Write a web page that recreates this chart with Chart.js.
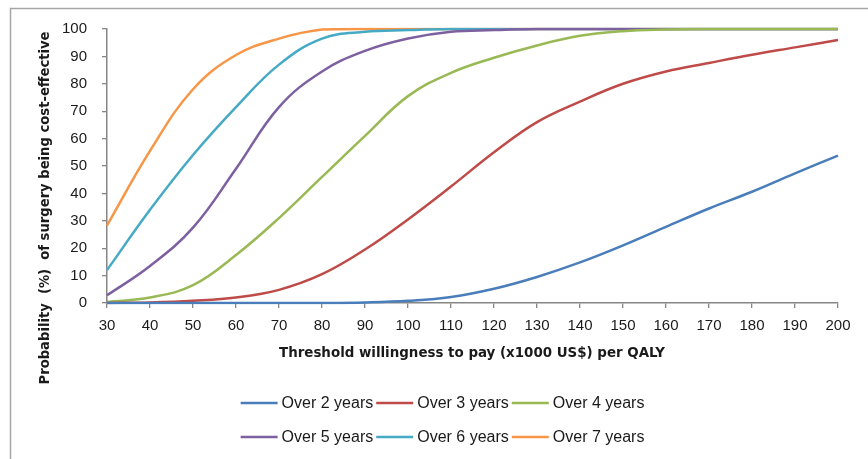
<!DOCTYPE html>
<html><head><meta charset="utf-8">
<script src="https://cdn.jsdelivr.net/npm/chart.js@4.4.0/dist/chart.umd.min.js"></script>
<style>html,body{margin:0;padding:0;background:#fff;overflow:hidden}#wrap{width:868px;height:459px;position:relative}canvas{display:block}</style>
</head><body><div id="wrap"><canvas id="c" style="width:868px;height:459px"></canvas></div>
<script>
const thresholds = [30,40,50,60,70,80,90,100,110,120,130,140,150,160,170,180,190,200];
const over2 = [0,0,0,0,0,0,0.2,0.8,2.2,5.2,9.5,14.8,21,27.8,34.5,40.6,47.3,53.8];
const over3 = [0,0.2,0.8,2,4.8,10.5,19.5,30.5,42.5,55,66,73.5,80,84.5,87.6,90.6,93.3,96];
const over4 = [0.4,2,6.5,17.5,31,46,61,75.5,84,89.5,94,97.5,99.2,99.8,100,100,100,100];
const over5 = [2.8,13.5,27.5,49,71.5,84.5,92,96.5,99,99.6,100,100,100,100,100,100,100,100];
const over6 = [12,34,54,71.5,87,96.5,99,99.6,100,100,100,100,100,100,100,100,100,100];
const over7 = [28.3,55.5,78,90.5,96.5,99.8,100,100,100,100,100,100,100,100,100,100,100,100];
const seriesNames = ['Over 2 years','Over 3 years','Over 4 years','Over 5 years','Over 6 years','Over 7 years'];
const seriesValues = [over2, over3, over4, over5, over6, over7];
const seriesColors = ['#4A7EBB','#BE4B48','#98B954','#7D60A0','#46AAC5','#F79646'];
const yTickValues = [0,10,20,30,40,50,60,70,80,90,100];
const xTitle = 'Threshold willingness to pay (x1000 US$) per QALY';
const yTitle = 'Probability  (%)  of surgery being cost-effective';

const AXIS = '#868686';
const TEXT = '#1a1a1a';
const TITLE_FONT = 'bold 14px "DejaVu Sans Condensed", "DejaVu Sans", sans-serif';

function drawFittedText(ctx, text, cx, cy, rotation, targetWidth) {
  ctx.save();
  ctx.translate(cx, cy);
  ctx.rotate(rotation);
  ctx.font = TITLE_FONT;
  const w = ctx.measureText(text).width;
  ctx.scale(targetWidth / w, 1);
  ctx.fillStyle = TEXT;
  ctx.textAlign = 'center';
  ctx.textBaseline = 'middle';
  ctx.fillText(text, 0, 0);
  ctx.restore();
}

const framePlugin = {
  id: 'frame',
  beforeDraw(chart) {
    const ctx = chart.ctx;
    ctx.save();
    ctx.fillStyle = '#fff';
    ctx.fillRect(0, 0, chart.width, chart.height);
    ctx.strokeStyle = '#a6a6a6';
    ctx.lineWidth = 1.5;
    ctx.strokeRect(10.5, 8.5, chart.width + 20, chart.height + 20);
    ctx.restore();
  }
};

const titlesPlugin = {
  id: 'axisTitles',
  afterDraw(chart) {
    const ctx = chart.ctx;
    drawFittedText(ctx, yTitle, 45, 208, -Math.PI / 2, 353);
    drawFittedText(ctx, xTitle, 472, 353, 0, 386);
  }
};

const legendPlugin = {
  id: 'customLegend',
  afterDraw(chart) {
    const ctx = chart.ctx;
    const sets = chart.data.datasets;
    const perRow = 3;
    const lineLen = 37, gap = 4, after = 3;
    const rowsY = [403, 437];
    const centerX = 444;
    ctx.save();
    ctx.font = '16px "Liberation Sans", Arial, sans-serif';
    ctx.textBaseline = 'middle';
    ctx.textAlign = 'left';
    const colW = [];
    for (let c = 0; c < perRow; c++) {
      let w = 0;
      for (let r = 0; r * perRow + c < sets.length; r++) {
        w = Math.max(w, ctx.measureText(sets[r * perRow + c].label).width);
      }
      colW.push(lineLen + gap + w + after);
    }
    const total = colW.reduce((a, b) => a + b, 0);
    for (let i = 0; i < sets.length; i++) {
      const r = Math.floor(i / perRow), c = i % perRow;
      let x = centerX - total / 2;
      for (let k = 0; k < c; k++) x += colW[k];
      const y = rowsY[r];
      ctx.strokeStyle = sets[i].borderColor;
      ctx.lineWidth = 2.5;
      ctx.beginPath();
      ctx.moveTo(x, y);
      ctx.lineTo(x + lineLen, y);
      ctx.stroke();
      ctx.fillStyle = TEXT;
      ctx.fillText(sets[i].label, x + lineLen + gap, y + 1);
    }
    ctx.restore();
  }
};

new Chart(document.getElementById('c'), {
  type: 'line',
  data: {
    labels: thresholds.map(String),
    datasets: seriesNames.map((name, i) => ({
      label: name,
      data: seriesValues[i],
      borderColor: seriesColors[i],
      backgroundColor: seriesColors[i],
      borderWidth: 2.5,
      pointRadius: 0,
      pointHoverRadius: 0,
      fill: false,
      tension: 0.4,
      clip: 1.5
    }))
  },
  options: {
    responsive: false,
    animation: false,
    devicePixelRatio: 1,
    layout: { padding: { left: 20, top: 29, right: 30, bottom: 90 } },
    plugins: { legend: { display: false }, tooltip: { enabled: false } },
    scales: {
      x: {
        type: 'category',
        offset: false,
        grid: { display: true, drawOnChartArea: false, drawTicks: true, tickLength: 5, color: AXIS, lineWidth: 1.3 },
        border: { display: true, color: AXIS, width: 1.5 },
        ticks: { color: TEXT, font: { family: '"Liberation Sans", Arial, sans-serif', size: 15 }, padding: 9, maxRotation: 0, autoSkip: false },
        title: { display: false },
        afterFit(s) { s.height = 66; }
      },
      y: {
        min: 0, max: 100,
        afterBuildTicks(s) { s.ticks = yTickValues.map(v => ({ value: v })); },
        grid: { display: true, drawOnChartArea: false, drawTicks: true, tickLength: 5, color: AXIS, lineWidth: 1.3 },
        border: { display: true, color: AXIS, width: 1.5 },
        ticks: { color: TEXT, font: { family: '"Liberation Sans", Arial, sans-serif', size: 15 }, padding: 15 },
        afterFit(s) { s.width = 87; }
      }
    }
  },
  plugins: [framePlugin, titlesPlugin, legendPlugin]
});
</script></body></html>
